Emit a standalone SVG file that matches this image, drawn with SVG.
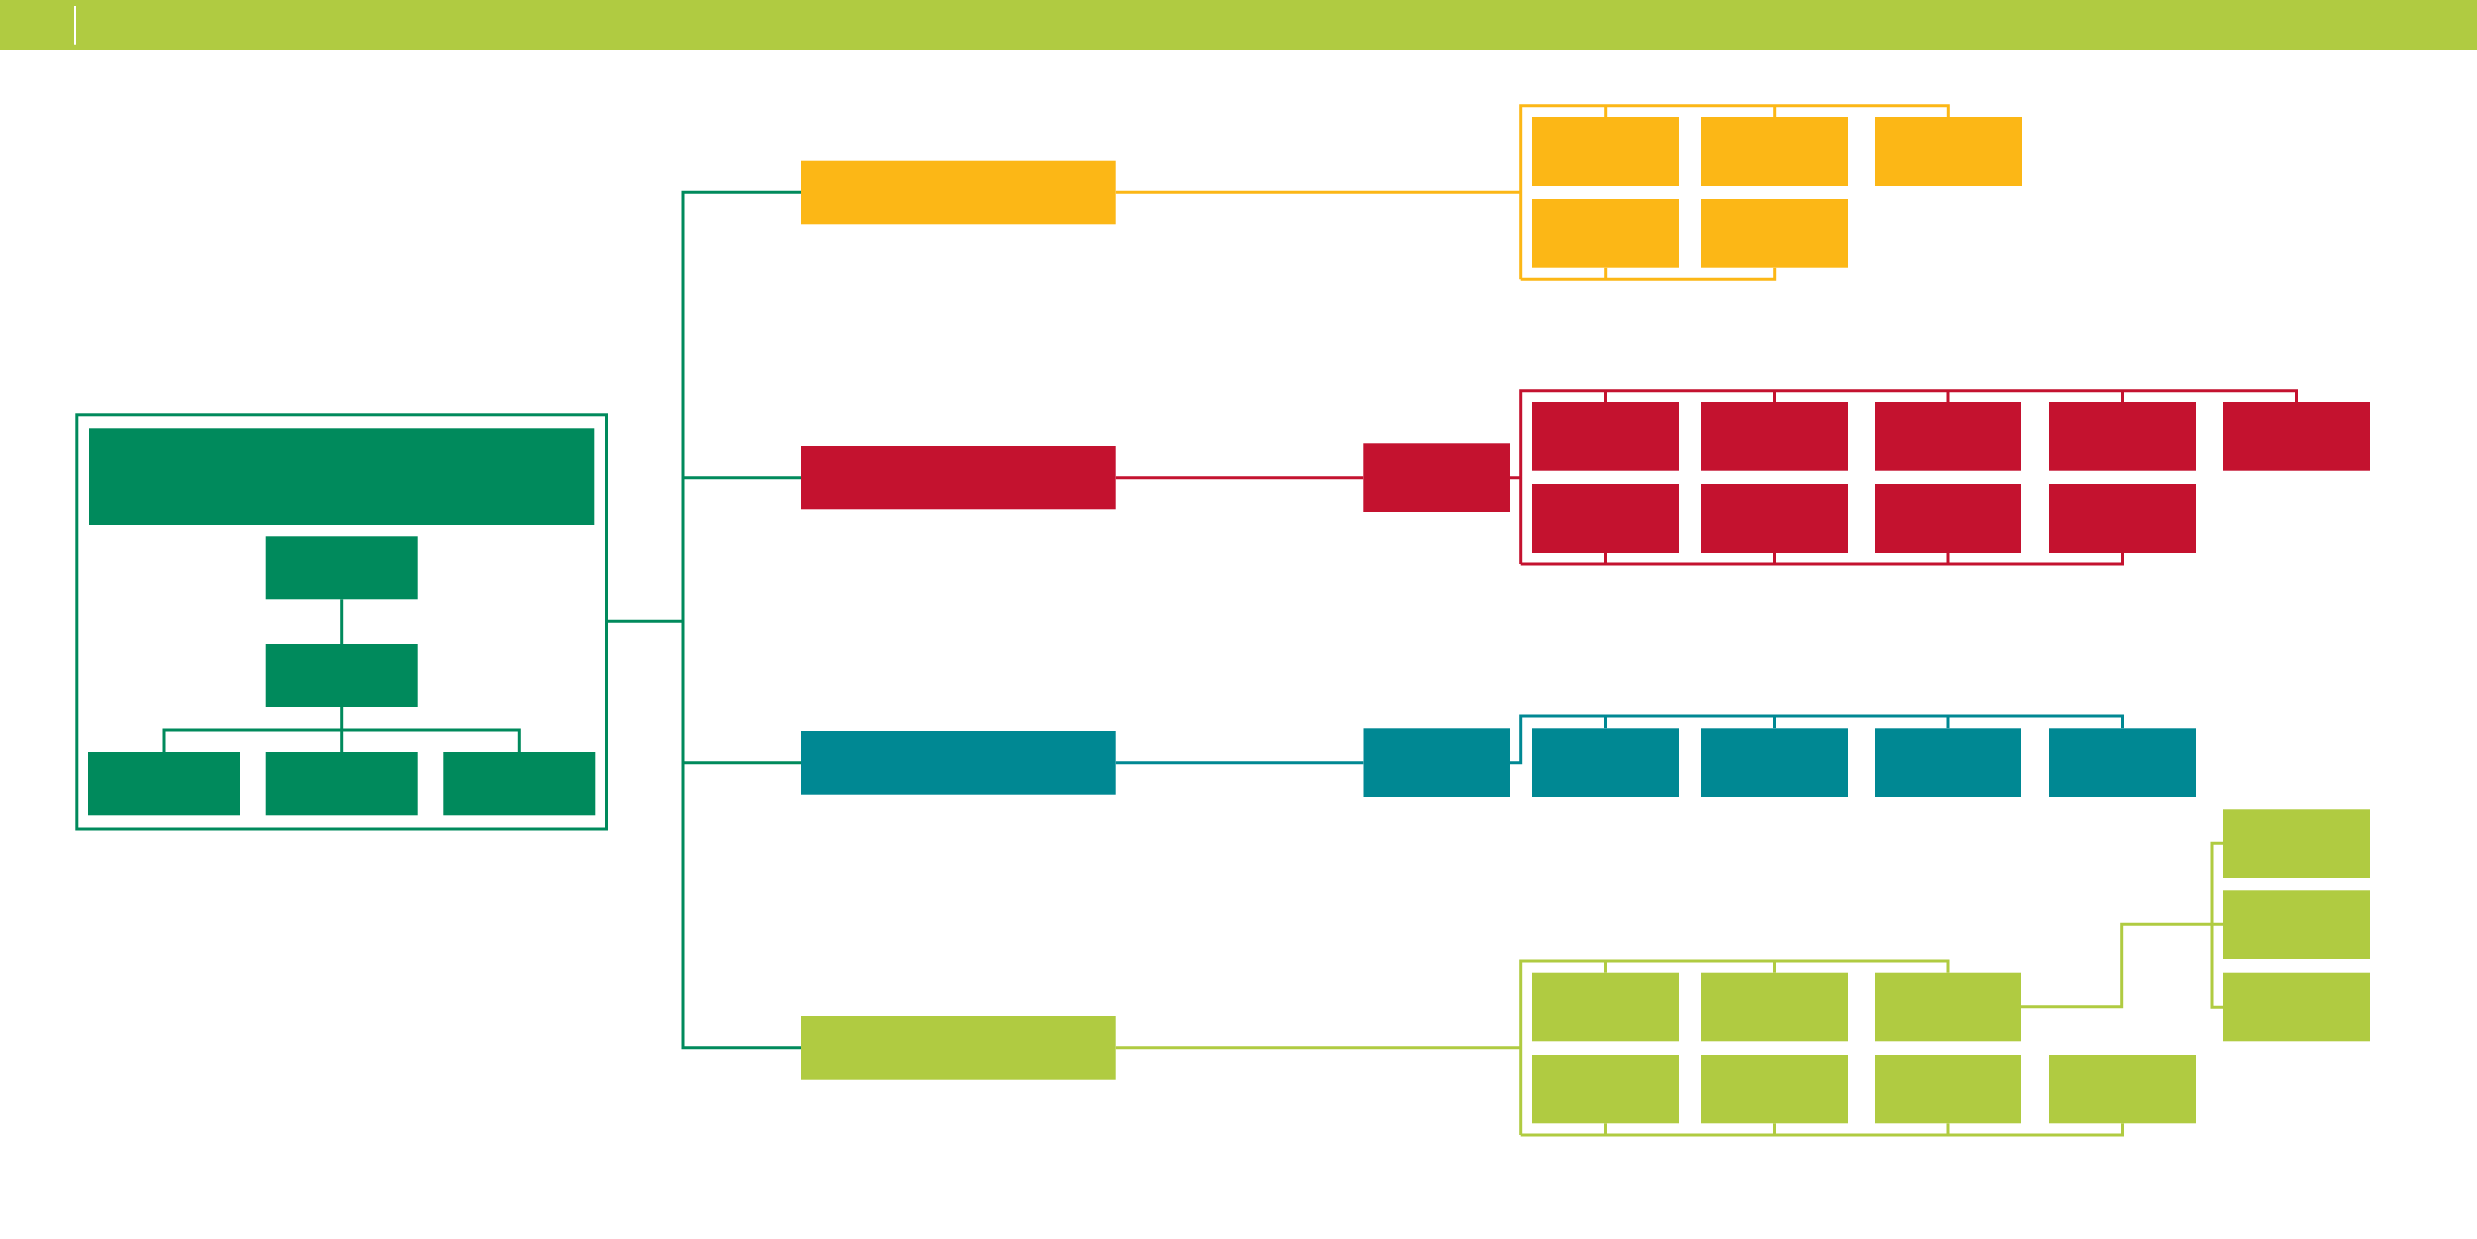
<svg xmlns="http://www.w3.org/2000/svg" width="2477" height="1239" viewBox="0 0 2477 1239">
<style>
.g{fill:#008A5C}.y{fill:#FCB716}.r{fill:#C4122F}.t{fill:#008893}.l{fill:#B0CB41}
.ln{fill:none;stroke-width:3;stroke-linejoin:miter;stroke-linecap:butt}
.sg{stroke:#008A5C}.sy{stroke:#FCB716}.sr{stroke:#C4122F}.st{stroke:#008893}.sl{stroke:#B0CB41}
</style>
<rect width="2477" height="1239" fill="#FFFFFF"/>
<g id="header">
<rect x="0" y="0" width="2477" height="50" class="l"/>
<line x1="75" y1="6" x2="75" y2="44.7" stroke="#FFFFFF" stroke-width="2"/>
</g>
<g id="connectors">
<rect x="76.8" y="414.8" width="529.7" height="414.2" class="ln sg"/>
<path class="ln sg" d="M341.7 599.3V644M341.7 707V752M164 752V730H519.3V752"/>
<path class="ln sg" d="M606.5 621.3H683M801 192.3H683V1047.7H801M683 477.7H801M683 762.7H801"/>
<path class="ln sy" d="M1115.7 192.3H1520.7M1605.7 117V105.7M1520.7 279.3V105.7H1948.3V117M1774.7 117V105.7M1605.7 267.7V279.3M1520.7 279.3H1774.7V267.7"/>
<path class="ln sr" d="M1115.7 477.7H1363.3M1510 477.7H1520.7M1520.7 564V390.7H2296.5V402M1605.5 390.7V402M1774.5 390.7V402M1948 390.7V402M2122.5 390.7V402M1520.7 564H2122.5V553M1605.5 564V553M1774.5 564V553M1948 564V553"/>
<path class="ln st" d="M1115.7 762.7H1363.5M1510 762.7H1520.7V716H2122.5V728.3M1605.5 716V728.3M1774.5 716V728.3M1948 716V728.3"/>
<path class="ln sl" d="M1115.7 1047.7H1520.7M1520.7 1135V961H1948V972.7M1605.5 961V972.7M1774.5 961V972.7M1520.7 1135H2122.5V1123.3M1605.5 1135V1123.3M1774.5 1135V1123.3M1948 1135V1123.3"/>
<path class="ln sl" d="M2021 1006.7H2121.7V924.3H2223M2223 843.3H2212V1007.3H2223"/>
</g>
<g id="org">
<rect x="89" y="428.3" width="505.3" height="96.7" class="g"/>
<rect x="265.7" y="536.3" width="152" height="63" class="g"/>
<rect x="265.7" y="644" width="152" height="63" class="g"/>
<rect x="88" y="752" width="152" height="63.3" class="g"/>
<rect x="265.7" y="752" width="152" height="63.3" class="g"/>
<rect x="443.3" y="752" width="152" height="63.3" class="g"/>
</g>
<g id="branch-yellow">
<rect x="801" y="160.7" width="314.7" height="63.6" class="y"/>
<rect x="1532" y="117" width="147" height="69" class="y"/>
<rect x="1701" y="117" width="147" height="69" class="y"/>
<rect x="1875" y="117" width="147" height="69" class="y"/>
<rect x="1532" y="199" width="147" height="68.7" class="y"/>
<rect x="1701" y="199" width="147" height="68.7" class="y"/>
</g>
<g id="branch-red">
<rect x="801" y="446" width="314.7" height="63.3" class="r"/>
<rect x="1363.3" y="443.3" width="146.7" height="68.7" class="r"/>
<rect x="1532" y="402" width="147" height="68.7" class="r"/>
<rect x="1701" y="402" width="147" height="68.7" class="r"/>
<rect x="1875" y="402" width="146" height="68.7" class="r"/>
<rect x="2049" y="402" width="147" height="68.7" class="r"/>
<rect x="2223" y="402" width="147" height="68.7" class="r"/>
<rect x="1532" y="484" width="147" height="69" class="r"/>
<rect x="1701" y="484" width="147" height="69" class="r"/>
<rect x="1875" y="484" width="146" height="69" class="r"/>
<rect x="2049" y="484" width="147" height="69" class="r"/>
</g>
<g id="branch-teal">
<rect x="801" y="731" width="314.7" height="63.7" class="t"/>
<rect x="1363.5" y="728.3" width="146.5" height="68.7" class="t"/>
<rect x="1532" y="728.3" width="147" height="68.7" class="t"/>
<rect x="1701" y="728.3" width="147" height="68.7" class="t"/>
<rect x="1875" y="728.3" width="146" height="68.7" class="t"/>
<rect x="2049" y="728.3" width="147" height="68.7" class="t"/>
</g>
<g id="branch-lime">
<rect x="801" y="1016" width="314.7" height="63.7" class="l"/>
<rect x="1532" y="972.7" width="147" height="68.6" class="l"/>
<rect x="1701" y="972.7" width="147" height="68.6" class="l"/>
<rect x="1875" y="972.7" width="146" height="68.6" class="l"/>
<rect x="1532" y="1055" width="147" height="68.3" class="l"/>
<rect x="1701" y="1055" width="147" height="68.3" class="l"/>
<rect x="1875" y="1055" width="146" height="68.3" class="l"/>
<rect x="2049" y="1055" width="147" height="68.3" class="l"/>
<rect x="2223" y="809.3" width="147" height="68.7" class="l"/>
<rect x="2223" y="890.3" width="147" height="68.7" class="l"/>
<rect x="2223" y="972.7" width="147" height="68.6" class="l"/>
</g>
</svg>
